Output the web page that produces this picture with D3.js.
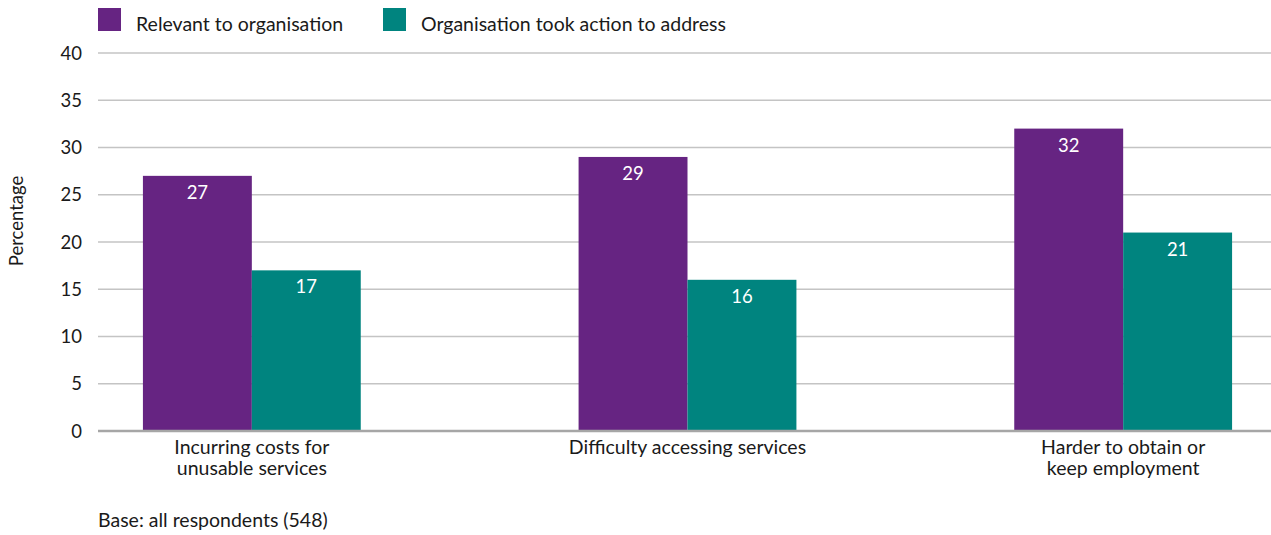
<!DOCTYPE html>
<html>
<head>
<meta charset="utf-8">
<script src="https://cdn.jsdelivr.net/npm/d3@7"></script>
<style>
  html, body { margin: 0; padding: 0; background: #fff; }
  svg { display: block; font-family: Lato, "Open Sans", sans-serif; }
</style>
</head>
<body>
<svg id="chart" width="1271" height="535"></svg>
<script>
const categories = [
  ["Incurring costs for", "unusable services"],
  ["Difficulty accessing services"],
  ["Harder to obtain or", "keep employment"]
];
const seriesNames = ["Relevant to organisation", "Organisation took action to address"];
const relevant = [27, 29, 32];
const tookAction = [17, 16, 21];
const yTicks = [0, 5, 10, 15, 20, 25, 30, 35, 40];
const colors = ["#662482", "#00847f"];

const svg = d3.select("#chart");
const plotLeft = 98, plotRight = 1271, yTop = 53, yBottom = 431;
const fs = 19.5;

const keys = categories.map((c, i) => "c" + i);
const x = d3.scaleBand().domain(keys).range([34, 1341]).paddingInner(0.5).paddingOuter(0.25);
const xs = d3.scaleBand().domain([0, 1]).range([0, x.bandwidth()]);
const y = d3.scaleLinear().domain([0, 40]).range([yBottom, yTop]);

// gridlines
svg.append("g").selectAll("line").data(yTicks.filter(t => t > 0)).join("line")
  .attr("x1", plotLeft).attr("x2", plotRight)
  .attr("y1", d => y(d)).attr("y2", d => y(d))
  .attr("stroke", "#c4c4c4").attr("stroke-width", 1.5);

// y tick labels
svg.append("g").selectAll("text").data(yTicks).join("text")
  .attr("x", 82).attr("y", d => y(d)).attr("dy", "0.36em")
  .attr("text-anchor", "end").attr("font-size", 18.5).attr("fill", "#1a1a1a")
  .text(d => d);

// y title
svg.append("text")
  .attr("transform", "translate(23,221) rotate(-90)")
  .attr("text-anchor", "middle").attr("font-size", 18.5).attr("fill", "#1a1a1a")
  .text("Percentage");

// bars
const rows = keys.map((k, i) => ({ k, vals: [relevant[i], tookAction[i]] }));
const groups = svg.append("g").selectAll("g").data(rows).join("g")
  .attr("transform", d => `translate(${x(d.k)},0)`);
groups.selectAll("rect").data(d => d.vals.map((v, j) => ({ v, j }))).join("rect")
  .attr("x", d => xs(d.j)).attr("width", xs.bandwidth())
  .attr("y", d => y(d.v)).attr("height", d => y(0) - y(d.v))
  .attr("fill", d => colors[d.j]);
groups.selectAll("text").data(d => d.vals.map((v, j) => ({ v, j }))).join("text")
  .attr("x", d => xs(d.j) + xs.bandwidth() / 2).attr("y", d => y(d.v) + 23)
  .attr("text-anchor", "middle").attr("font-size", 18.5).attr("fill", "#fff")
  .text(d => d.v);

// baseline
svg.append("line").attr("x1", plotLeft).attr("x2", plotRight)
  .attr("y1", y(0)).attr("y2", y(0)).attr("stroke", "#a6a6a6").attr("stroke-width", 2.5);

// category labels
const catG = svg.append("g").selectAll("text").data(categories).join("text")
  .attr("text-anchor", "middle").attr("font-size", fs).attr("fill", "#1a1a1a")
  .attr("x", (d, i) => x(keys[i]) + x.bandwidth() / 2).attr("y", 454);
catG.selectAll("tspan").data(d => d).join("tspan")
  .attr("x", function () { return d3.select(this.parentNode).attr("x"); })
  .attr("dy", (d, i) => i === 0 ? 0 : 20.5)
  .text(d => d);

// legend
const legX = [98, 383];
const leg = svg.append("g").selectAll("g").data(seriesNames).join("g")
  .attr("transform", (d, i) => `translate(${legX[i]},8)`);
leg.append("rect").attr("width", 23).attr("height", 23).attr("fill", (d, i) => colors[i]);
leg.append("text").attr("x", 38).attr("y", 22.5).attr("font-size", fs).attr("fill", "#1a1a1a").text(d => d);

// footnote
svg.append("text").attr("x", 98).attr("y", 527).attr("font-size", fs).attr("fill", "#1a1a1a")
  .text("Base: all respondents (548)");
</script>
</body>
</html>
